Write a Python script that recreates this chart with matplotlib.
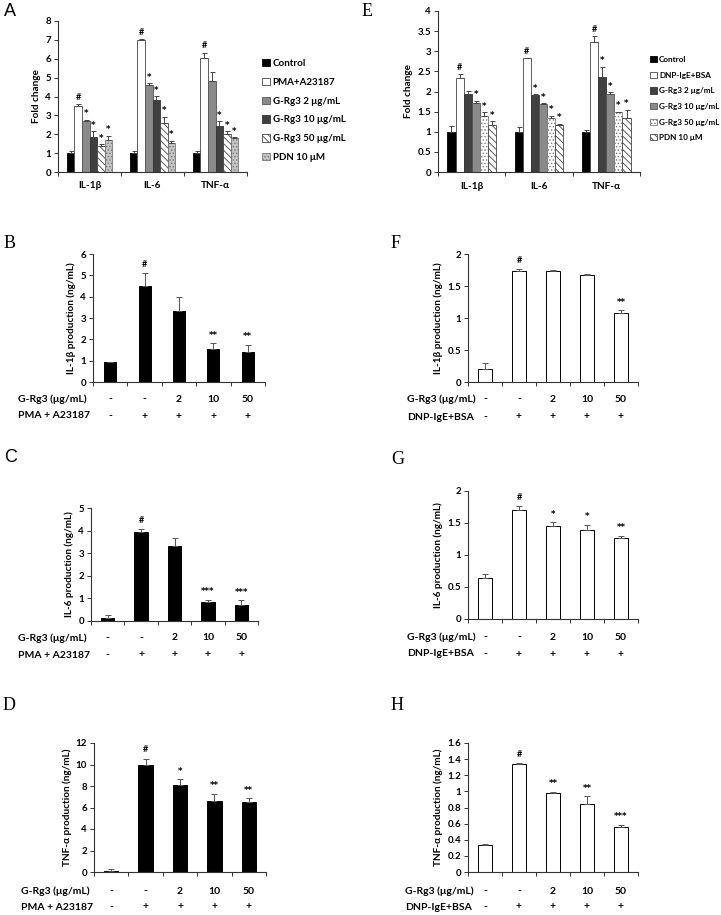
import matplotlib
matplotlib.use("Agg")
import matplotlib.pyplot as plt
import numpy as np
from matplotlib.patches import Patch
from matplotlib.transforms import blended_transform_factory

plt.rcParams['font.family'] = ['Lato', 'DejaVu Sans']
plt.rcParams['font.weight'] = 'bold'
plt.rcParams['hatch.linewidth'] = 0.6

W, H = 721, 915

# ---------------- data ----------------
cytokines = ["IL-1β", "IL-6", "TNF-α"]

a_series = ["Control", "PMA+A23187", "G-Rg3 2 μg/mL", "G-Rg3 10 μg/mL", "G-Rg3 50 μg/mL", "PDN 10 μM"]
a_vals = [[1.0, 3.48, 2.72, 1.87, 1.38, 1.72],
          [1.0, 7.0, 4.60, 3.82, 2.58, 1.55],
          [1.0, 6.03, 4.82, 2.43, 2.00, 1.80]]
a_errs = [[0.10, 0.10, 0.05, 0.30, 0.10, 0.20],
          [0.10, 0.05, 0.10, 0.20, 0.35, 0.10],
          [0.10, 0.30, 0.50, 0.25, 0.15, 0.05]]
a_marks = [["", "#", "*", "*", "*", "*"],
           ["", "#", "*", "*", "*", "*"],
           ["", "#", "", "*", "*", "*"]]

e_series = ["Control", "DNP-IgE+BSA", "G-Rg3 2 μg/mL", "G-Rg3 10 μg/mL", "G-Rg3 50 μg/mL", "PDN 10 μM"]
e_vals = [[1.0, 2.33, 1.93, 1.72, 1.40, 1.18],
          [1.0, 2.82, 1.92, 1.68, 1.33, 1.18],
          [1.0, 3.22, 2.35, 1.93, 1.48, 1.35]]
e_errs = [[0.15, 0.10, 0.08, 0.05, 0.08, 0.08],
          [0.12, 0.02, 0.02, 0.03, 0.07, 0.02],
          [0.05, 0.15, 0.27, 0.05, 0.02, 0.20]]
e_marks = [["", "#", "", "*", "*", "*"],
           ["", "#", "*", "*", "*", "*"],
           ["", "#", "*", "*", "*", "*"]]

rg3_row = ["-", "-", "2", "10", "50"]
stim_row = ["-", "+", "+", "+", "+"]

b_vals = [0.95, 4.52, 3.35, 1.53, 1.42]
b_errs = [0.0, 0.60, 0.65, 0.28, 0.33]
b_marks = ["", "#", "", "**", "**"]

c_vals = [0.15, 3.95, 3.30, 0.83, 0.70]
c_errs = [0.12, 0.10, 0.38, 0.12, 0.22]
c_marks = ["", "#", "", "***", "***"]

d_vals = [0.10, 9.95, 8.08, 6.65, 6.50]
d_errs = [0.20, 0.60, 0.55, 0.65, 0.35]
d_marks = ["", "#", "*", "**", "**"]

f_vals = [0.21, 1.74, 1.73, 1.67, 1.08]
f_errs = [0.09, 0.03, 0.02, 0.01, 0.04]
f_marks = ["", "#", "", "", "**"]

g_vals = [0.64, 1.71, 1.45, 1.39, 1.27]
g_errs = [0.07, 0.05, 0.06, 0.08, 0.03]
g_marks = ["", "#", "*", "*", "**"]

h_vals = [0.33, 1.34, 0.975, 0.84, 0.555]
h_errs = [0.015, 0.015, 0.02, 0.10, 0.03]
h_marks = ["", "#", "**", "**", "***"]

# ---------------- helpers ----------------
fig = plt.figure(figsize=(W / 100, H / 100), dpi=100)


def add_ax(l, t, r, b):
    return fig.add_axes([l / W, 1 - b / H, (r - l) / W, (b - t) / H])


def style(ax, ymax, ystep, ylabel):
    for s in ["top", "right"]:
        ax.spines[s].set_visible(False)
    for s in ["left", "bottom"]:
        ax.spines[s].set_linewidth(0.8)
        ax.spines[s].set_color("#333333")
    ticks = np.arange(0, ymax + ystep / 2, ystep)
    ax.set_ylim(0, ymax)
    ax.set_yticks(ticks)
    ax.set_yticklabels([("%g" % t) for t in ticks], fontsize=7, fontweight="bold")
    ax.tick_params(axis="y", length=3, width=0.7, pad=2, color="#333333")
    ax.tick_params(axis="x", length=3, width=0.7, labelbottom=False, color="#333333")
    ax.set_ylabel(ylabel, fontsize=7.2, fontweight="bold", labelpad=3)


def marks(ax, xs, tops, labels, dy=1.5):
    for x, t, m in zip(xs, tops, labels):
        if m:
            if m == "#":
                ax.annotate(m, (x, t), xytext=(0, dy), textcoords="offset points",
                            ha="center", va="bottom", fontsize=6.5, fontweight="bold")
            else:
                ax.annotate(m, (x, t), xytext=(0, dy - 0.5), textcoords="offset points",
                            ha="center", va="bottom", fontsize=6.3, fontweight="bold",
                            family=["DejaVu Sans"])


def panel_label(x, y, s, serif=True):
    fam = ["Liberation Serif", "DejaVu Serif"] if serif else ["Liberation Sans", "DejaVu Sans"]
    fig.text(x / W, 1 - y / H, s, fontsize=13, family=fam, fontweight="normal", va="center", ha="left")


def grouped(ax, vals, errs, mk, colors, hatches, edges, width=0.12):
    n = len(colors)
    for g in range(len(vals)):
        xs = g + 0.5 + (np.arange(n) - (n - 1) / 2) * width
        for i in range(n):
            ax.bar(xs[i], vals[g][i], width=width, color=colors[i], hatch=hatches[i],
                   edgecolor=edges[i], linewidth=0.6, zorder=2)
            ax.errorbar(xs[i], vals[g][i], yerr=[[0], [errs[g][i]]], fmt="none",
                        ecolor="#444444", elinewidth=0.7, capsize=1.8, capthick=0.7, zorder=3)
        tops = [v + e for v, e in zip(vals[g], errs[g])]
        marks(ax, xs, tops, mk[g], dy=1.5)
    ax.set_xlim(0, len(vals))
    ax.set_xticks(np.arange(0, len(vals) + 1))
    trans = blended_transform_factory(ax.transData, ax.transAxes)
    for g, c in enumerate(cytokines):
        ax.text(g + 0.5, -0.06, c, transform=trans, ha="center", va="top",
                fontsize=7.2, fontweight="bold")


def simple(ax, vals, errs, mk, face, width, row1, row2, y1, y2, xrow, stim_label):
    xs = np.arange(len(vals)) + 0.5
    ax.bar(xs, vals, width=width, color=face, edgecolor="black", linewidth=0.7, zorder=2)
    ax.errorbar(xs, vals, yerr=[np.zeros(len(errs)), errs], fmt="none",
                ecolor="#555555", elinewidth=0.7, capsize=2.2, capthick=0.7, zorder=3)
    tops = [v + e for v, e in zip(vals, errs)]
    marks(ax, xs, tops, mk, dy=3)
    ax.set_xlim(0, len(vals))
    ax.set_xticks(np.arange(0, len(vals) + 1))
    trans = blended_transform_factory(ax.transData, fig.transFigure)
    for x, a, b in zip(xs, row1, row2):
        ax.text(x, 1 - y1 / H, a, transform=trans, ha="center", va="center", fontsize=7.5, fontweight="bold")
        ax.text(x, 1 - y2 / H, b, transform=trans, ha="center", va="center", fontsize=7.5, fontweight="bold")
    fig.text(xrow / W, 1 - y1 / H, "G-Rg3 (μg/mL)", ha="left", va="center", fontsize=7.5, fontweight="bold")
    fig.text(xrow / W, 1 - y2 / H, stim_label, ha="left", va="center", fontsize=7.5, fontweight="bold")


# ---------------- Panel A ----------------
axA = add_ax(58, 21, 247, 172)
a_colors = ["black", "white", "#8a8a8a", "#404040", "white", "#c4c4c4"]
a_hatch = [None, None, None, None, "\\\\\\\\\\", "....."]
a_edges = ["black", "#444444", "#555555", "#333333", "#444444", "#777777"]
grouped(axA, a_vals, a_errs, a_marks, a_colors, a_hatch, a_edges)
style(axA, 8, 1, "Fold change")
handles = [Patch(facecolor=c, hatch=h, edgecolor=e, linewidth=0.6) for c, h, e in zip(a_colors, a_hatch, a_edges)]
fig.legend(handles, a_series, loc="upper left", bbox_to_anchor=(257 / W, 1 - 54 / H),
           frameon=False, fontsize=7, handlelength=0.8, handleheight=0.8,
           handletextpad=0.3, labelspacing=1.0, borderpad=0)
panel_label(4, 12, "A", serif=False)

# ---------------- Panel E ----------------
axE = add_ax(438, 11, 640, 172)
e_colors = ["black", "white", "#404040", "#8a8a8a", "white", "white"]
e_hatch = [None, None, None, None, ".....", "\\\\\\\\\\"]
e_edges = ["black", "#444444", "#333333", "#555555", "#777777", "#444444"]
grouped(axE, e_vals, e_errs, e_marks, e_colors, e_hatch, e_edges)
style(axE, 4, 0.5, "Fold change")
handles = [Patch(facecolor=c, hatch=h, edgecolor=e, linewidth=0.6) for c, h, e in zip(e_colors, e_hatch, e_edges)]
fig.legend(handles, e_series, loc="upper left", bbox_to_anchor=(646 / W, 1 - 52 / H),
           frameon=False, fontsize=5.9, handlelength=0.8, handleheight=0.8,
           handletextpad=0.3, labelspacing=1.05, borderpad=0)
panel_label(362, 12, "E")

# ---------------- Panel B ----------------
axB = add_ax(93, 254, 265, 382)
simple(axB, b_vals, b_errs, b_marks, "black", 0.35, rg3_row, stim_row, 399, 416, 18, "PMA + A23187")
style(axB, 6, 1, "IL-1β production (ng/mL)")
panel_label(4, 243, "B")

# ---------------- Panel F ----------------
axF = add_ax(468, 254, 638, 382)
simple(axF, f_vals, f_errs, f_marks, "white", 0.42, rg3_row, stim_row, 399, 417, 407, "DNP-IgE+BSA")
style(axF, 2, 0.5, "IL-1β production (ng/mL)")
panel_label(391, 243, "F")

# ---------------- Panel C ----------------
axC = add_ax(91, 508, 258, 621)
simple(axC, c_vals, c_errs, c_marks, "black", 0.40, rg3_row, stim_row, 638, 655, 18, "PMA + A23187")
style(axC, 5, 1, "IL-6 production (ng/mL)")
panel_label(4, 458, "C", serif=False)

# ---------------- Panel G ----------------
axG = add_ax(468, 491, 638, 619)
simple(axG, g_vals, g_errs, g_marks, "white", 0.42, rg3_row, stim_row, 637, 654, 407, "DNP-IgE+BSA")
style(axG, 2, 0.5, "IL-6 production (ng/mL)")
panel_label(391, 459, "G")

# ---------------- Panel D ----------------
axD = add_ax(94, 743, 266, 872)
simple(axD, d_vals, d_errs, d_marks, "black", 0.42, rg3_row, stim_row, 891, 907, 21, "PMA + A23187")
style(axD, 12, 2, "TNF-α production (ng/mL)")
panel_label(3, 705, "D")

# ---------------- Panel H ----------------
axH = add_ax(468, 743, 638, 872)
simple(axH, h_vals, h_errs, h_marks, "white", 0.42, rg3_row, stim_row, 891, 907, 405, "DNP-IgE+BSA")
style(axH, 1.6, 0.2, "TNF-α production (ng/mL)")
panel_label(391, 705, "H")

fig.savefig("out.png", dpi=100)
